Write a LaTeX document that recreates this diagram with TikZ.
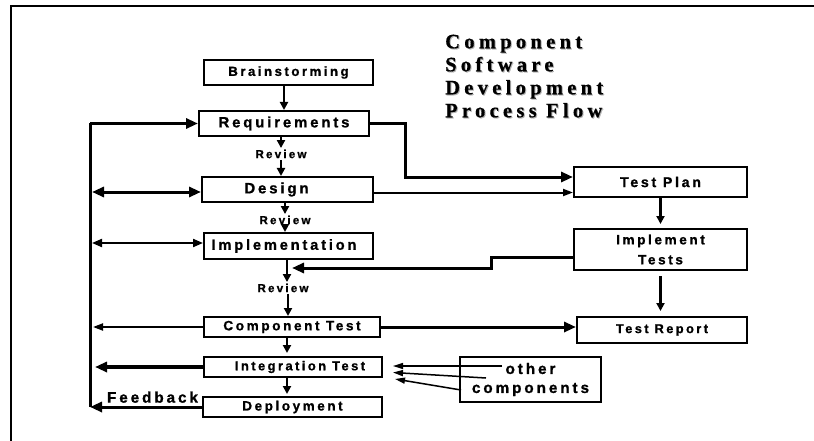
\documentclass[tikz,border=0pt]{standalone}
\usepackage{fontspec}
\newfontfamily\boxfont[LetterSpace=19, BoldFeatures={FakeBold=1}]{Liberation Sans}
\newfontfamily\titlefont[LetterSpace=21, BoldFeatures={FakeBold=0.6}]{Liberation Serif}
\usetikzlibrary{arrows.meta,calc}
\tikzset{
  % Bosqich qutilari
  procbox/.style  = {draw, line width=2pt, inner sep=0pt, align=center},
  fsz/.style      = {font=\boxfont\bfseries\fontsize{#1}{#1}\selectfont},
  revlab/.style   = {inner sep=1.5pt, fsz=11.6},
  titlelab/.style = {anchor=north west, inner sep=0pt, align=left,
                     font=\titlefont\bfseries\fontsize{20.5}{23}\selectfont},
  % Strelkalar
  thickarr/.style = {line width=3pt, -{Triangle[length=12pt,width=10pt]}},
  thinarr/.style  = {line width=2pt, -{Triangle[length=10pt,width=7pt]}},
  dblthick/.style = {line width=3pt, {Triangle[length=12pt,width=10pt]}-{Triangle[length=12pt,width=10pt]}},
  dblthin/.style  = {line width=2pt, {Triangle[length=10pt,width=8pt]}-{Triangle[length=10pt,width=8pt]}},
  vertarr/.style  = {line width=2.5pt, -{Triangle[length=8pt,width=8pt]}},
  otherarr/.style = {line width=1.5pt, -{Triangle[length=10pt,width=6pt]}},
}
\begin{document}
\begin{tikzpicture}[x=1pt,y=-1pt]
  \useasboundingbox (0,0) rectangle (814,441);
  % Ramka
  \draw[line width=1.5pt] (11,441) -- (11,6) -- (814,6);
  % Sarlavha
  \node[titlelab, black!30] (titlesh) at (446,35.5) {Component\\Software\\Development\\Process Flow};
  \node[titlelab] (title) at (445,34.5) {Component\\Software\\Development\\Process Flow};
  % Chap ustun qutilari
  \node[procbox, minimum width=169pt, minimum height=25pt, fsz=13.2] (brain) at (288.5,72.5) {Brainstorming};
  \node[procbox, minimum width=170pt, minimum height=25pt, fsz=14.95] (req) at (284,123.5) {Requirements};
  \node[procbox, minimum width=171pt, minimum height=25pt, fsz=15] (des) at (287.5,189.5) {Design\hspace{22pt}};
  \node[procbox, minimum width=169pt, minimum height=26pt, fsz=14.7] (impl) at (288.5,246) {Implementation\hspace{9pt}};
  \node[procbox, minimum width=176pt, minimum height=20pt, fsz=13.6] (ct) at (292,327) {Component Test};
  \node[procbox, minimum width=178pt, minimum height=20pt, fsz=12.9] (intt) at (293,367) {\hspace{14pt}Integration Test};
  \node[procbox, minimum width=179pt, minimum height=20pt, fsz=13.5] (dep) at (292.5,407) {Deployment};
  % O'ng ustun qutilari
  \node[procbox, minimum width=173pt, minimum height=30pt, fsz=14.2] (tp) at (660.5,182) {Test Plan};
  \node[procbox, minimum width=173pt, minimum height=41pt,
        font=\boxfont\bfseries\fontsize{13.6}{20}\selectfont] (itest) at (660.5,249.5) {Implement\\Tests};
  \node[procbox, minimum width=170pt, minimum height=26pt, fsz=12.8] (tr) at (662,330) {Test Report};
  \node[procbox, minimum width=141pt, minimum height=45pt,
        font=\boxfont\bfseries\fontsize{15.3}{19}\selectfont] (oc) at (530.5,379.5) {other\\components};
  % Review yozuvlari
  \node[revlab] (rev1) at (281,154) {Review};
  \node[revlab] (rev2) at (285,220) {Review};
  \node[revlab] (rev3) at (283,288) {Review};
  % Asosiy oqim
  \coordinate (colX) at (287,0);
  \draw[vertarr] (req.north |- brain.south) -- (req.north);
  \draw[vertarr] (req.south -| rev1) -- (rev1.north);
  \draw[vertarr] (rev1.south) -- (rev1.south |- des.north);
  \draw[vertarr] (des.south -| rev2) -- (rev2.north);
  \draw[vertarr] (rev2.south) -- (rev2.south |- impl.north);
  \draw[vertarr] (impl.south -| colX) -- (rev3.north -| colX);
  \draw[vertarr] ($(rev3.south -| colX)+(1,0)$) -- ($(ct.north -| colX)+(1,0)$);
  \draw[vertarr, shorten >=3pt] (ct.south -| colX) -- (intt.north -| colX);
  \draw[vertarr, shorten >=2pt] (intt.south -| colX) -- (dep.north -| colX);
  % Test oqimi
  \coordinate (bendR) at (405,150);
  \draw[thickarr] (req.east) -| (bendR) |- ($(tp.west)+(0,-5)$);
  \draw[thinarr] ($(des.east)+(0,3)$) -- ($(des.east -| tp.west)+(0,3)$);
  \draw[vertarr, shorten >=4pt] (tp.south) -- (itest.north);
  \draw[vertarr, shorten <=5pt, shorten >=5pt] (itest.south) -- (itest.south |- tr.north);
  \coordinate (joinI) at (292,268);
  \draw[thickarr] ($(itest.west)+(0,7.5)$) -- ++(-82,0) -- ++(0,11) -- (joinI);
  \draw[thickarr] (ct.east) -- (ct.east -| tr.west);
  % Qayta aloqa ustuni
  \coordinate (spT) at (90,123.5);
  \coordinate (spB) at (90,407);
  \draw[line width=3pt] (spT) -- (spB);
  \draw[thickarr] (spT) -- (req.west);
  \draw[dblthick] ($(des.west -| spT)+(2,2.5)$) -- ($(des.west)+(0,2.5)$);
  \draw[dblthin] ($(impl.west -| spT)+(2,-3)$) -- ($(impl.west)+(0,-3)$);
  \draw[thinarr] (ct.west) -- ($(ct.west -| spT)+(3,0)$);
  \draw[thickarr, line width=3.5pt] (intt.west) -- ($(intt.west -| spT)+(5,0)$);
  \draw[thickarr] (dep.west) -- (spB);
  \node[fsz=15.3, anchor=south, inner sep=1pt] (fb) at (152.5,404) {Feedback};
  % Boshqa komponentlar
  \coordinate (oc1) at (502,366);
  \coordinate (oc2) at (486,378);
  \coordinate (oc3) at (461,390);
  \draw[otherarr] (oc1) -- ($(intt.east)+(10,-1)$);
  \draw[otherarr] (oc2) -- ($(intt.east)+(10,5.5)$);
  \draw[otherarr] (oc3) -- ($(intt.east)+(12,12)$);
\end{tikzpicture}
\end{document}
